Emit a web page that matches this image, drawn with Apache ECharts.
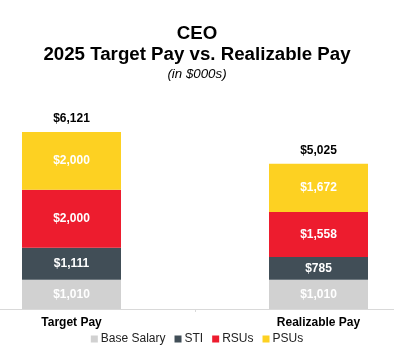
<!DOCTYPE html>
<html><head><meta charset="utf-8">
<script src="https://cdn.jsdelivr.net/npm/echarts@6/dist/echarts.min.js"></script>
<style>html,body{margin:0;padding:0;background:#fff}#c{width:394px;height:351px}</style>
</head><body><div id="c"></div>
<script>
const categories = ['Target Pay', 'Realizable Pay'];
const baseSalary = [1010, 1010];
const sti = [1111, 785];
const rsus = [2000, 1558];
const psus = [2000, 1672];
const seriesNames = ['Base Salary', 'STI', 'RSUs', 'PSUs'];
const colors = ['#D1D1D1', '#414E57', '#ED1C2E', '#FDD122'];

const totals = categories.map((_, i) => baseSalary[i] + sti[i] + rsus[i] + psus[i]);
const fmt = v => '$' + v.toLocaleString('en-US');
const font = 'Arial, "Liberation Sans", sans-serif';

const chart = echarts.init(document.getElementById('c'));
const inLabel = {show: true, position: 'inside', color: '#fff', fontWeight: 'bold', fontSize: 12, fontFamily: font, formatter: p => fmt(p.value)};
const mk = (name, data, color) => ({
  name, type: 'bar', stack: 'pay', data, barWidth: 99,
  itemStyle: {color}, label: inLabel, emphasis: {disabled: true}
});
chart.setOption({
  animation: false,
  textStyle: {fontFamily: font},
  title: [
    {text: 'CEO', left: 'center', top: 19, textStyle: {fontSize: 18.7, fontWeight: 'bold', color: '#000', fontFamily: font}},
    {text: '2025 Target Pay vs. Realizable Pay', left: 'center', top: 40, textStyle: {fontSize: 18.7, fontWeight: 'bold', color: '#000', fontFamily: font}},
    {text: '(in $000s)', left: 'center', top: 63, textStyle: {fontSize: 13.3, fontWeight: 'normal', fontStyle: 'italic', color: '#000', fontFamily: font}}
  ],
  legend: {
    bottom: 1, left: 'center', itemWidth: 7, itemHeight: 7, itemGap: 9,
    icon: 'rect', data: seriesNames,
    textStyle: {fontSize: 12, color: '#222', fontFamily: font, padding: [0, 0, 0, -2]}
  },
  grid: {left: -52, right: -48, top: 106.6, bottom: 42, outerBoundsMode: 'none', containLabel: false},
  xAxis: {
    type: 'category', data: categories,
    axisLine: {lineStyle: {color: '#D9D9D9'}},
    axisTick: {show: true, length: 3, lineStyle: {color: '#D9D9D9'}},
    axisLabel: {color: '#000', fontWeight: 'bold', fontSize: 12, fontFamily: font, margin: 8}
  },
  yAxis: {type: 'value', min: 0, max: 7000, show: false, splitLine: {show: false}},
  series: [
    mk(seriesNames[0], baseSalary, colors[0]),
    mk(seriesNames[1], sti, colors[1]),
    mk(seriesNames[2], rsus, colors[2]),
    mk(seriesNames[3], psus, colors[3]),
    {
      name: 'Total', type: 'bar', stack: 'pay', data: totals.map(() => 0), barWidth: 99,
      itemStyle: {color: 'transparent'}, emphasis: {disabled: true},
      label: {show: true, position: 'top', distance: 7, color: '#000', fontWeight: 'bold', fontSize: 12, fontFamily: font,
        formatter: p => fmt(totals[p.dataIndex])}
    }
  ]
});
</script></body></html>
